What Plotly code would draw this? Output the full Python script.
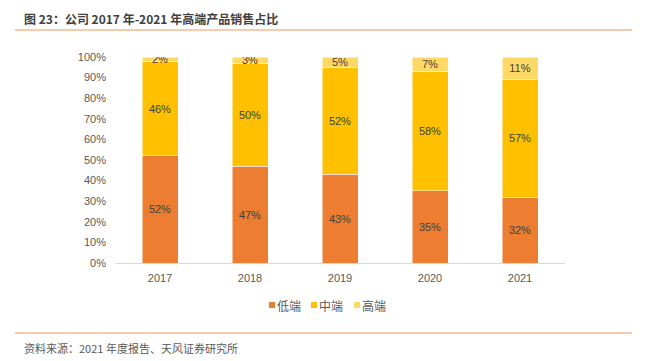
import plotly.graph_objects as go

years = ["2017", "2018", "2019", "2020", "2021"]
low = [52, 47, 43, 35, 32]
mid = [46, 50, 52, 58, 57]
high = [2, 3, 5, 7, 11]
names = ["低端", "中端", "高端"]
colors = ["#ED7D31", "#FFC000", "#FFD966"]

font_family = "Noto Sans CJK SC, Liberation Sans, sans-serif"
L, R, T, B = 115, 80, 57, 98
PW, PH = 645 - L - R, 361 - T - B


def px_x(x):
    return (x - L) / PW


def px_y(y):
    return (361 - B - y) / PH


fig = go.Figure()
for name, vals, c in zip(names, [low, mid, high], colors):
    fig.add_trace(go.Bar(
        x=years, y=[v / 100 for v in vals], name=name,
        marker=dict(color=c, line=dict(width=0.5, color="white")),
        text=[f"{v}%" for v in vals], textposition="inside",
        insidetextanchor="middle", textangle=0,
        textfont=dict(size=11, color="#404040", family="Liberation Sans, Arial"),
        width=0.4, showlegend=False,
    ))

fig.update_layout(
    barmode="stack",
    width=645, height=361,
    margin=dict(l=L, r=R, t=T, b=B, autoexpand=False),
    plot_bgcolor="white", paper_bgcolor="white",
    uniformtext=dict(minsize=8, mode="show"),
    font=dict(family=font_family),
    yaxis=dict(range=[0, 1], tickformat=".0%", dtick=0.1, showgrid=False,
               tickfont=dict(size=11, color="#595959", family="Liberation Sans, Arial"),
               ticks="", zeroline=False, showline=False, ticklabelstandoff=8),
    xaxis=dict(showline=True, linecolor="#D9D9D9", linewidth=1, ticks="",
               tickfont=dict(size=11, color="#595959", family="Liberation Sans, Arial"),
               ticklabelstandoff=5),
    showlegend=False,
)

# custom compact legend
leg_x = [272, 314, 357]
for name, c, lx in zip(names, colors, leg_x):
    fig.add_shape(type="rect", xref="paper", yref="paper",
                  x0=px_x(lx - 3), x1=px_x(lx + 3), y0=px_y(308), y1=px_y(302),
                  fillcolor=c, line=dict(width=0))
    fig.add_annotation(text=name, xref="paper", yref="paper",
                       x=px_x(lx + 3), xanchor="left", y=px_y(305), yanchor="middle",
                       showarrow=False, font=dict(size=12, color="#595959"))

fig.add_annotation(text="<b>图 23：公司 2017 年-2021 年高端产品销售占比</b>", xref="paper", yref="paper",
                   x=px_x(22), xanchor="left", y=px_y(18), yanchor="middle",
                   showarrow=False, font=dict(size=12, color="#404040"))
fig.add_annotation(text="资料来源：2021 年度报告、天风证券研究所", xref="paper", yref="paper",
                   x=px_x(22), xanchor="left", y=px_y(348), yanchor="middle",
                   showarrow=False, font=dict(size=11, color="#595959"))
for ypx in [30, 333]:
    fig.add_shape(type="line", xref="paper", yref="paper",
                  x0=px_x(15), x1=px_x(632),
                  y0=px_y(ypx), y1=px_y(ypx),
                  line=dict(color="#F8CBAD", width=2))

fig.write_html("out.html", config={"displayModeBar": False},
               post_script="document.body.style.margin='0';document.body.style.overflow='hidden';")
